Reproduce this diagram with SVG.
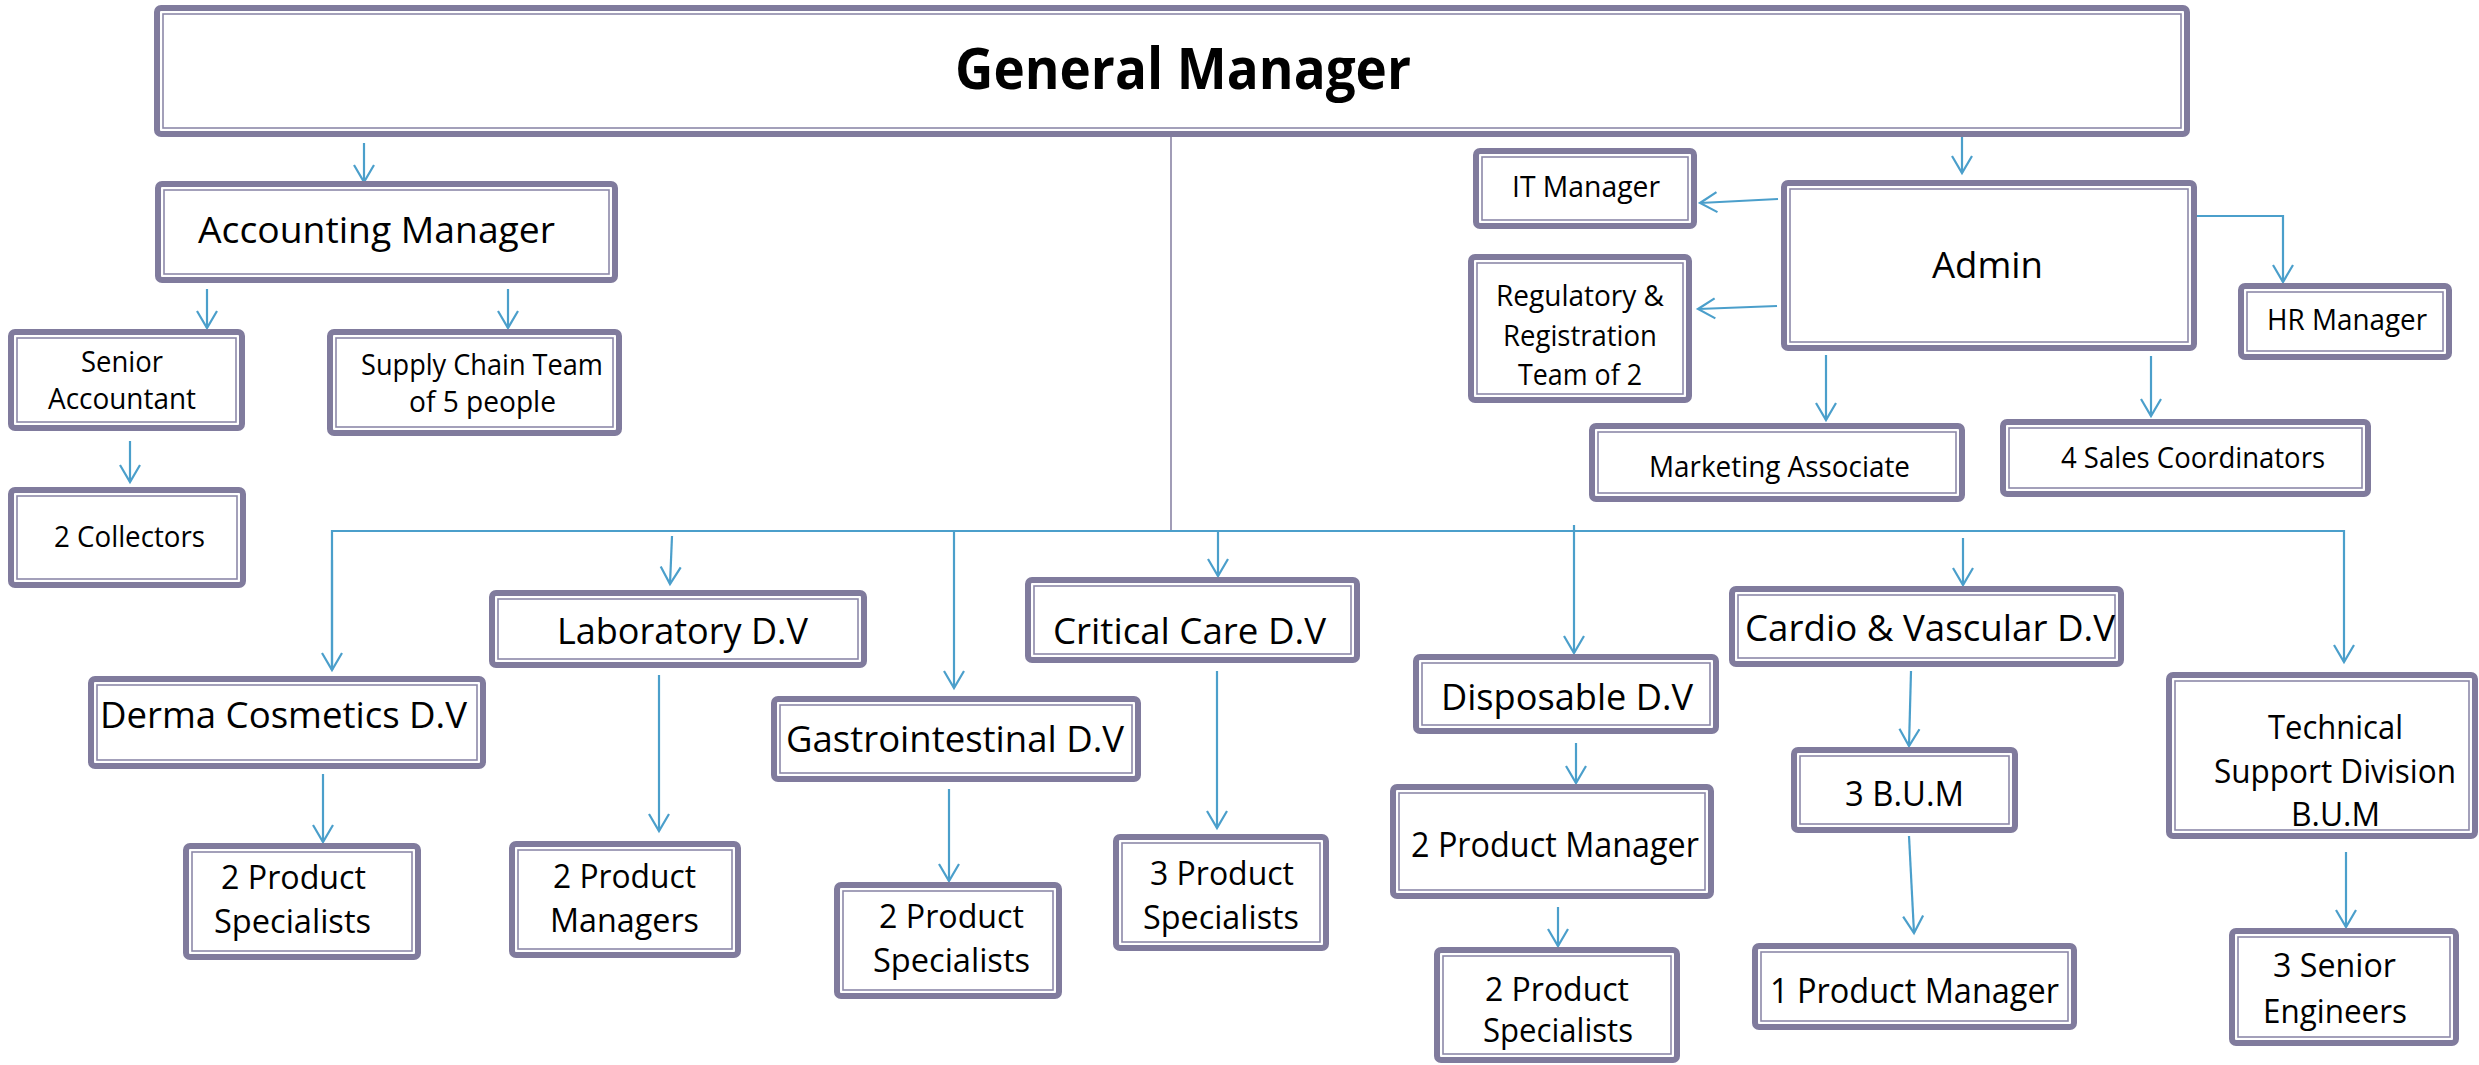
<svg xmlns="http://www.w3.org/2000/svg" width="2479" height="1065" viewBox="0 0 2479 1065">
<style>
.b1{fill:#fff;stroke:#807b9d;stroke-width:6}
.b2{fill:none;stroke:#8d89a9;stroke-width:1.6}
.t{font-family:'Open Sans',Lato,sans-serif;fill:#000}
.c{stroke:#4b9fcb;stroke-width:2.2;fill:none}
</style>
<defs>
<marker id="ah" markerUnits="userSpaceOnUse" markerWidth="24" markerHeight="26" viewBox="-20 -13 24 26" refX="0" refY="0" orient="auto" overflow="visible">
<path d="M-17,-10 L0,0 L-17,10" fill="none" stroke="#4b9fcb" stroke-width="2.2"/>
</marker>
</defs>
<rect width="2479" height="1065" fill="#fff"/>
<g id="connectors">
<line x1="1171" y1="137" x2="1171" y2="531" stroke="#8a84a5" stroke-width="1.6"/>
<polyline class="c" points="332,670 332,531 2344,531 2344,662" marker-end="url(#ah)"/>
<line class="c" x1="332" y1="560" x2="332" y2="670" marker-end="url(#ah)"/>
<line class="c" x1="364" y1="143" x2="364" y2="182" marker-end="url(#ah)"/>
<line class="c" x1="207" y1="289" x2="207" y2="328" marker-end="url(#ah)"/>
<line class="c" x1="508" y1="289" x2="508" y2="328" marker-end="url(#ah)"/>
<line class="c" x1="130" y1="441" x2="130" y2="482" marker-end="url(#ah)"/>
<line class="c" x1="672" y1="536" x2="670" y2="584" marker-end="url(#ah)"/>
<line class="c" x1="954" y1="531" x2="954" y2="688" marker-end="url(#ah)"/>
<line class="c" x1="1218" y1="531" x2="1218" y2="576" marker-end="url(#ah)"/>
<line class="c" x1="1574" y1="525" x2="1574" y2="653" marker-end="url(#ah)"/>
<line class="c" x1="1963" y1="538" x2="1963" y2="585" marker-end="url(#ah)"/>
<line class="c" x1="323" y1="774" x2="323" y2="842" marker-end="url(#ah)"/>
<line class="c" x1="659" y1="675" x2="659" y2="831" marker-end="url(#ah)"/>
<line class="c" x1="949" y1="789" x2="949" y2="881" marker-end="url(#ah)"/>
<line class="c" x1="1217" y1="671" x2="1217" y2="828" marker-end="url(#ah)"/>
<line class="c" x1="1576" y1="743" x2="1576" y2="783" marker-end="url(#ah)"/>
<line class="c" x1="1558" y1="907" x2="1558" y2="946" marker-end="url(#ah)"/>
<line class="c" x1="1911" y1="671" x2="1909" y2="746" marker-end="url(#ah)"/>
<line class="c" x1="1909" y1="836" x2="1914" y2="933" marker-end="url(#ah)"/>
<line class="c" x1="2346" y1="852" x2="2346" y2="927" marker-end="url(#ah)"/>
<line class="c" x1="1962" y1="137" x2="1962" y2="173" marker-end="url(#ah)"/>
<line class="c" x1="1778" y1="199" x2="1700" y2="203" marker-end="url(#ah)"/>
<line class="c" x1="1777" y1="306" x2="1698" y2="309" marker-end="url(#ah)"/>
<polyline class="c" points="2196,216 2283,216 2283,282" marker-end="url(#ah)"/>
<line class="c" x1="1826" y1="355" x2="1826" y2="420" marker-end="url(#ah)"/>
<line class="c" x1="2151" y1="356" x2="2151" y2="416" marker-end="url(#ah)"/>
</g>
<g id="n-gm"><rect class="b1" x="157" y="8" width="2030" height="126" rx="4"/><rect class="b2" x="163" y="14" width="2018" height="114"/><text class="t" x="955" y="89" font-size="57" font-weight="bold" textLength="456" lengthAdjust="spacingAndGlyphs">General Manager</text></g>
<g id="n-am"><rect class="b1" x="158" y="184" width="457" height="96" rx="4"/><rect class="b2" x="164" y="190" width="445" height="84"/><text class="t" x="198" y="243" font-size="36" textLength="357" lengthAdjust="spacingAndGlyphs">Accounting Manager</text></g>
<g id="n-sa"><rect class="b1" x="11" y="332" width="231" height="96" rx="4"/><rect class="b2" x="17" y="338" width="219" height="84"/><text class="t" x="81" y="372" font-size="29" textLength="82" lengthAdjust="spacingAndGlyphs">Senior</text><text class="t" x="48" y="409" font-size="29" textLength="148" lengthAdjust="spacingAndGlyphs">Accountant</text></g>
<g id="n-sc"><rect class="b1" x="330" y="332" width="289" height="101" rx="4"/><rect class="b2" x="336" y="338" width="277" height="89"/><text class="t" x="361" y="375" font-size="29" textLength="242" lengthAdjust="spacingAndGlyphs">Supply Chain Team</text><text class="t" x="409" y="412" font-size="29" textLength="147" lengthAdjust="spacingAndGlyphs">of 5 people</text></g>
<g id="n-col"><rect class="b1" x="11" y="490" width="232" height="95" rx="4"/><rect class="b2" x="17" y="496" width="220" height="83"/><text class="t" x="54" y="547" font-size="29" textLength="151" lengthAdjust="spacingAndGlyphs">2 Collectors</text></g>
<g id="n-lab"><rect class="b1" x="492" y="593" width="372" height="72" rx="4"/><rect class="b2" x="498" y="599" width="360" height="60"/><text class="t" x="557" y="644" font-size="36" textLength="251" lengthAdjust="spacingAndGlyphs">Laboratory D.V</text></g>
<g id="n-derma"><rect class="b1" x="91" y="679" width="392" height="87" rx="4"/><rect class="b2" x="97" y="685" width="380" height="75"/><text class="t" x="100" y="728" font-size="37" textLength="367" lengthAdjust="spacingAndGlyphs">Derma Cosmetics D.V</text></g>
<g id="n-gastro"><rect class="b1" x="774" y="699" width="364" height="80" rx="4"/><rect class="b2" x="780" y="705" width="352" height="68"/><text class="t" x="786" y="752" font-size="36" textLength="338" lengthAdjust="spacingAndGlyphs">Gastrointestinal D.V</text></g>
<g id="n-cc"><rect class="b1" x="1028" y="580" width="329" height="80" rx="4"/><rect class="b2" x="1034" y="586" width="317" height="68"/><text class="t" x="1053" y="644" font-size="36" textLength="273" lengthAdjust="spacingAndGlyphs">Critical Care D.V</text></g>
<g id="n-disp"><rect class="b1" x="1416" y="657" width="300" height="74" rx="4"/><rect class="b2" x="1422" y="663" width="288" height="62"/><text class="t" x="1441" y="710" font-size="36" textLength="252" lengthAdjust="spacingAndGlyphs">Disposable D.V</text></g>
<g id="n-cardio"><rect class="b1" x="1732" y="589" width="389" height="75" rx="4"/><rect class="b2" x="1738" y="595" width="377" height="63"/><text class="t" x="1745" y="641" font-size="36" textLength="370" lengthAdjust="spacingAndGlyphs">Cardio &amp; Vascular D.V</text></g>
<g id="n-tech"><rect class="b1" x="2169" y="675" width="306" height="161" rx="4"/><rect class="b2" x="2175" y="681" width="294" height="149"/><text class="t" x="2268" y="739" font-size="32" textLength="135" lengthAdjust="spacingAndGlyphs">Technical</text><text class="t" x="2214" y="783" font-size="32" textLength="242" lengthAdjust="spacingAndGlyphs">Support Division</text><text class="t" x="2291" y="826" font-size="32" textLength="89" lengthAdjust="spacingAndGlyphs">B.U.M</text></g>
<g id="n-ps-derma"><rect class="b1" x="186" y="846" width="232" height="111" rx="4"/><rect class="b2" x="192" y="852" width="220" height="99"/><text class="t" x="221" y="889" font-size="32" textLength="145" lengthAdjust="spacingAndGlyphs">2 Product</text><text class="t" x="214" y="933" font-size="32" textLength="157" lengthAdjust="spacingAndGlyphs">Specialists</text></g>
<g id="n-pm-lab"><rect class="b1" x="512" y="844" width="226" height="111" rx="4"/><rect class="b2" x="518" y="850" width="214" height="99"/><text class="t" x="553" y="888" font-size="32" textLength="143" lengthAdjust="spacingAndGlyphs">2 Product</text><text class="t" x="550" y="932" font-size="32" textLength="149" lengthAdjust="spacingAndGlyphs">Managers</text></g>
<g id="n-ps-gastro"><rect class="b1" x="837" y="885" width="222" height="111" rx="4"/><rect class="b2" x="843" y="891" width="210" height="99"/><text class="t" x="879" y="928" font-size="32" textLength="145" lengthAdjust="spacingAndGlyphs">2 Product</text><text class="t" x="873" y="972" font-size="32" textLength="157" lengthAdjust="spacingAndGlyphs">Specialists</text></g>
<g id="n-ps-cc"><rect class="b1" x="1116" y="837" width="210" height="111" rx="4"/><rect class="b2" x="1122" y="843" width="198" height="99"/><text class="t" x="1150" y="885" font-size="32" textLength="144" lengthAdjust="spacingAndGlyphs">3 Product</text><text class="t" x="1143" y="929" font-size="32" textLength="156" lengthAdjust="spacingAndGlyphs">Specialists</text></g>
<g id="n-pm-disp"><rect class="b1" x="1393" y="787" width="318" height="109" rx="4"/><rect class="b2" x="1399" y="793" width="306" height="97"/><text class="t" x="1411" y="857" font-size="34" textLength="288" lengthAdjust="spacingAndGlyphs">2 Product Manager</text></g>
<g id="n-ps-disp"><rect class="b1" x="1437" y="950" width="240" height="110" rx="4"/><rect class="b2" x="1443" y="956" width="228" height="98"/><text class="t" x="1485" y="1001" font-size="32" textLength="144" lengthAdjust="spacingAndGlyphs">2 Product</text><text class="t" x="1483" y="1042" font-size="32" textLength="150" lengthAdjust="spacingAndGlyphs">Specialists</text></g>
<g id="n-bum"><rect class="b1" x="1794" y="750" width="221" height="80" rx="4"/><rect class="b2" x="1800" y="756" width="209" height="68"/><text class="t" x="1845" y="806" font-size="34" textLength="119" lengthAdjust="spacingAndGlyphs">3 B.U.M</text></g>
<g id="n-pm1"><rect class="b1" x="1755" y="946" width="319" height="81" rx="4"/><rect class="b2" x="1761" y="952" width="307" height="69"/><text class="t" x="1770" y="1003" font-size="34" textLength="289" lengthAdjust="spacingAndGlyphs">1 Product Manager</text></g>
<g id="n-se"><rect class="b1" x="2232" y="931" width="224" height="112" rx="4"/><rect class="b2" x="2238" y="937" width="212" height="100"/><text class="t" x="2273" y="977" font-size="32" textLength="123" lengthAdjust="spacingAndGlyphs">3 Senior</text><text class="t" x="2263" y="1023" font-size="32" textLength="144" lengthAdjust="spacingAndGlyphs">Engineers</text></g>
<g id="n-it"><rect class="b1" x="1476" y="151" width="218" height="75" rx="4"/><rect class="b2" x="1482" y="157" width="206" height="63"/><text class="t" x="1512" y="197" font-size="29" textLength="148" lengthAdjust="spacingAndGlyphs">IT Manager</text></g>
<g id="n-admin"><rect class="b1" x="1784" y="183" width="410" height="165" rx="4"/><rect class="b2" x="1790" y="189" width="398" height="153"/><text class="t" x="1932" y="278" font-size="37" textLength="111" lengthAdjust="spacingAndGlyphs">Admin</text></g>
<g id="n-reg"><rect class="b1" x="1471" y="257" width="218" height="143" rx="4"/><rect class="b2" x="1477" y="263" width="206" height="131"/><text class="t" x="1496" y="306" font-size="29" textLength="168" lengthAdjust="spacingAndGlyphs">Regulatory &amp;</text><text class="t" x="1503" y="346" font-size="29" textLength="154" lengthAdjust="spacingAndGlyphs">Registration</text><text class="t" x="1518" y="385" font-size="29" textLength="124" lengthAdjust="spacingAndGlyphs">Team of 2</text></g>
<g id="n-hr"><rect class="b1" x="2241" y="286" width="208" height="71" rx="4"/><rect class="b2" x="2247" y="292" width="196" height="59"/><text class="t" x="2267" y="330" font-size="29" textLength="160" lengthAdjust="spacingAndGlyphs">HR Manager</text></g>
<g id="n-mkt"><rect class="b1" x="1592" y="426" width="370" height="73" rx="4"/><rect class="b2" x="1598" y="432" width="358" height="61"/><text class="t" x="1649" y="477" font-size="29" textLength="261" lengthAdjust="spacingAndGlyphs">Marketing Associate</text></g>
<g id="n-sales"><rect class="b1" x="2003" y="422" width="365" height="72" rx="4"/><rect class="b2" x="2009" y="428" width="353" height="60"/><text class="t" x="2061" y="468" font-size="29" textLength="264" lengthAdjust="spacingAndGlyphs">4 Sales Coordinators</text></g>
</svg>
